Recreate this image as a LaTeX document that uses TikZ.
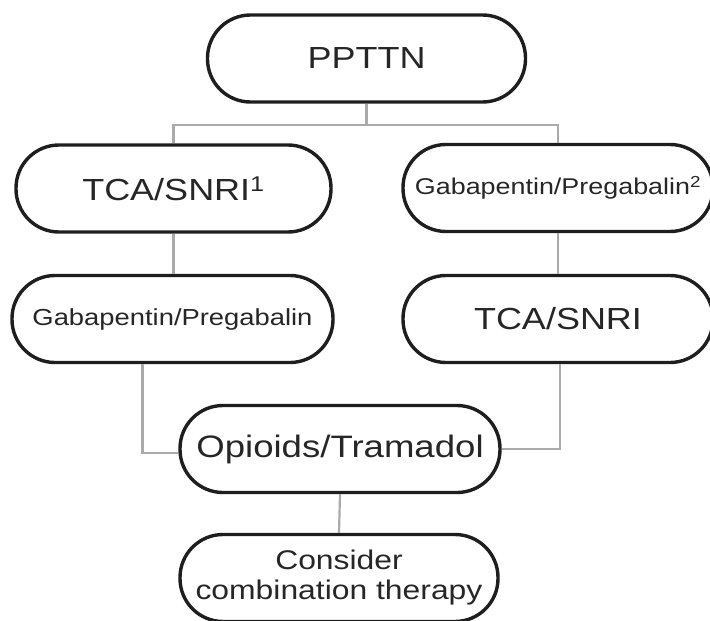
\documentclass[tikz,border=0pt]{standalone}
\usepackage{fontspec}
\setmainfont[FakeStretch=1.18]{Liberation Sans}
\definecolor{boxline}{HTML}{1E1E1E}
\definecolor{txtgray}{HTML}{262626}
\definecolor{linkgray}{HTML}{AAAAAA}
\begin{document}
\begin{tikzpicture}[x=1pt,y=-1pt,
    pill/.style={draw=boxline,line width=3.4pt,rounded corners=43pt,minimum width=#1,minimum height=87pt,inner sep=0pt,text=txtgray,align=center},
    link/.style={draw=linkgray,line width=2.2pt}]
    \useasboundingbox (0,0) rectangle (710,621);
    %boxes
    \node[pill=318pt,font=\fontsize{30.5}{32}\selectfont] (pptn) at (366.5,58.5) {PPTTN};
    \node[pill=315pt,font=\fontsize{30.5}{32}\selectfont] (tcafirst) at (173.5,188.5) {TCA/SNRI\textsuperscript{1}};
    \node[pill=310pt,font=\fontsize{22.8}{26}\selectfont] (gabafirst) at (558,188) {Gabapentin/Pregabalin\textsuperscript{2}};
    \node[pill=321pt,font=\fontsize{23.2}{26}\selectfont] (gabasecond) at (172.5,319) {Gabapentin/Pregabalin};
    \node[pill=310pt,font=\fontsize{30.5}{32}\selectfont] (tcasecond) at (558,319) {TCA/SNRI};
    \node[pill=320pt,font=\fontsize{31}{32}\selectfont] (opioids) at (340,449) {Opioids/Tramadol};
    \node[pill=318pt,font=\fontsize{27}{30}\selectfont] (combi) at (339,578) {Consider\\combination therapy};
    %links
    \draw[link] (pptn.south) -- ++(0,21) -| (tcafirst.north);
    \draw[link] (pptn.south) -- ++(0,21) -| (gabafirst.north);
    \draw[link] (tcafirst.south) -- (tcafirst.south |- gabasecond.north);
    \draw[link] (gabafirst.south) -- (gabafirst.south |- tcasecond.north);
    \draw[link] ([xshift=-30pt]gabasecond.south) |- ([yshift=-4pt]opioids.west);
    \draw[link] ([xshift=2pt]tcasecond.south) |- (opioids.east);
    \draw[link] (opioids.south) -- (combi.north);
\end{tikzpicture}
\end{document}
